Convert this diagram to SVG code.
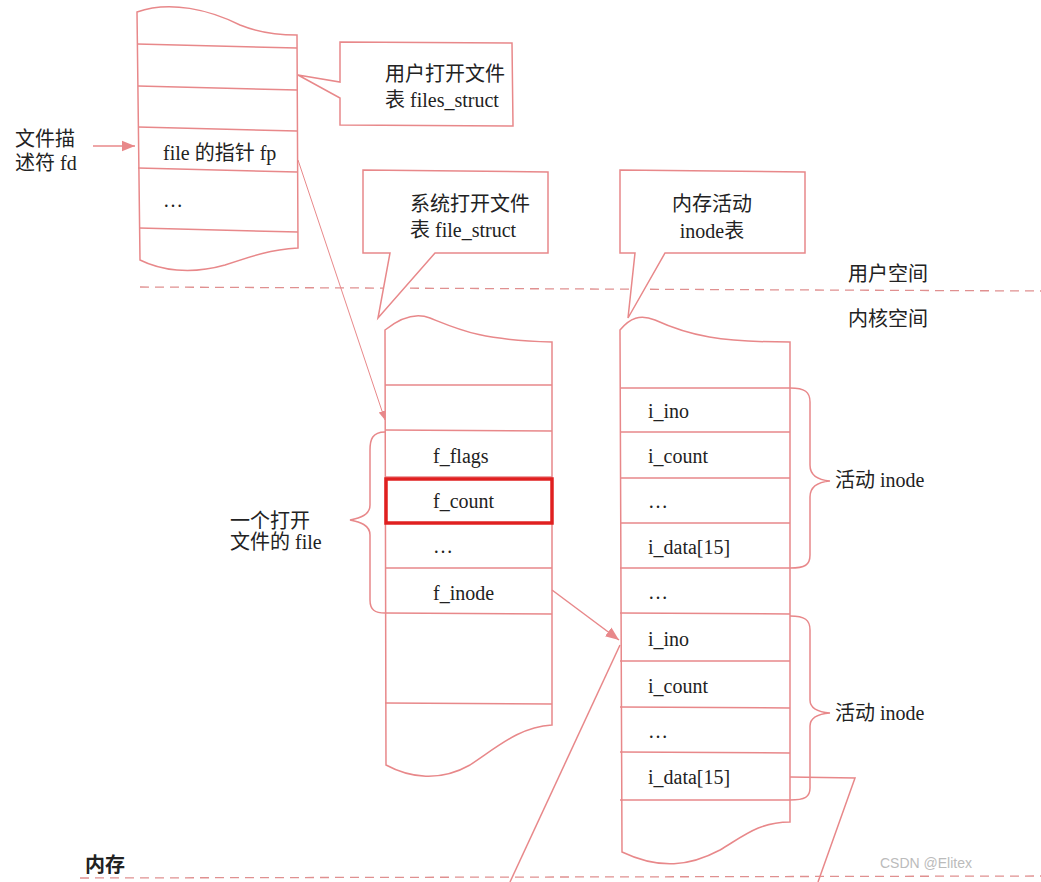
<svg xmlns="http://www.w3.org/2000/svg" width="1041" height="882" viewBox="0 0 1041 882">
<defs>
<style>
.s{fill:none;stroke:#e8888a;stroke-width:1.5}
.f{fill:#fff;stroke:#e8888a;stroke-width:1.5}
.d{fill:none;stroke:#e09090;stroke-width:1.3;stroke-dasharray:9 6}
text{font-family:"Liberation Serif","Noto Sans CJK SC",serif;font-size:20px;fill:#222}
</style>
<marker id="a" viewBox="0 0 10 10" refX="10" refY="5" markerWidth="9" markerHeight="9" orient="auto"><path d="M0,1 L10,5 L0,9 Z" fill="#e8888a"/></marker>
</defs>
<rect width="1041" height="882" fill="#fff"/>
<line class="d" x1="140" y1="287" x2="1041" y2="291"/>
<line class="d" x1="80" y1="878" x2="1041" y2="876"/>
<text x="848" y="281">用户空间</text>
<text x="848" y="326">内核空间</text>
<text x="85" y="872" style="font-weight:bold">内存</text>
<text x="880" y="868" style="font-family:'Liberation Sans',sans-serif;font-size:14px;fill:#bbb">CSDN @Elitex</text>
<g id="user-table">
<path class="f" d="M137,12 C170,0 210,10 240,25 C260,33 280,35 297,35 L298,248 C270,250 255,255 225,265 C190,275 160,270 140,260 Z"/>
<path class="s" d="M137,44 L297,48 M138,86 L297,90 M138,127 L297,131 M138,168 L297,172 M139,228 L298,232"/>
<text x="163" y="160">file 的指针 fp</text>
<text x="163" y="207">…</text>
</g>
<g id="fd-label">
<text x="15" y="146">文件描</text>
<text x="15" y="170">述符 fd</text>
</g>
<g id="callout-files">
<path class="f" d="M340,42 L512,43 L513,126 L340,125 L340,98 L298,75 L340,82 Z"/>
<text x="385" y="81">用户打开文件</text>
<text x="385" y="107">表 files_struct</text>
</g>
<g id="callout-file">
<path class="f" d="M363,170 L548,172 L548,253 L435,253 L378,318 L390,253 L363,253 Z"/>
<text x="410" y="211">系统打开文件</text>
<text x="410" y="237">表 file_struct</text>
</g>
<g id="callout-inode">
<path class="f" d="M620,170 L805,172 L805,253 L665,253 L628,318 L635,253 L620,253 Z"/>
<text x="712" y="211" text-anchor="middle">内存活动</text>
<text x="712" y="238" text-anchor="middle">inode表</text>
</g>
<g id="file-table">
<path class="f" d="M385,330 C400,318 415,312 430,318 C460,330 480,340 552,342 L552,725 C520,727 500,745 470,765 C440,782 410,778 386,765 Z"/>
<path class="s" d="M385,385 L552,385 M385,430 L552,431 M385,477 L552,477 M385,523 L552,523 M385,568 L552,568 M385,613 L552,614 M385,703 L552,704"/>
<rect x="386" y="479" width="166" height="44" fill="none" stroke="#e02020" stroke-width="3.5"/>
<text x="433" y="463">f_flags</text>
<text x="433" y="508">f_count</text>
<text x="433" y="553">…</text>
<text x="433" y="600">f_inode</text>
</g>
<g id="file-label">
<text x="230" y="528">一个打开</text>
<text x="230" y="549">文件的 file</text>
</g>
<g id="inode-table">
<path class="f" d="M620,330 C630,318 640,314 655,320 C690,336 720,342 790,342 L790,822 C760,822 745,835 720,850 C690,866 660,870 622,852 Z"/>
<path class="s" d="M620,388 L790,388 M620,432 L790,432 M620,478 L790,478 M620,523 L790,523 M620,568 L790,568 M620,613 L790,614 M620,661 L790,661 M620,707 L790,708 M620,752 L790,753 M620,800 L790,800"/>
<text x="648" y="418">i_ino</text>
<text x="648" y="463">i_count</text>
<text x="648" y="508">…</text>
<text x="648" y="554">i_data[15]</text>
<text x="648" y="599">…</text>
<text x="648" y="646">i_ino</text>
<text x="648" y="693">i_count</text>
<text x="648" y="738">…</text>
<text x="648" y="784">i_data[15]</text>
</g>
<g id="inode-labels">
<text x="835" y="487">活动 inode</text>
<text x="835" y="720">活动 inode</text>
</g>
<g id="connectors">
<line class="s" x1="93" y1="146" x2="135" y2="146" marker-end="url(#a)"/>
<line x1="298" y1="160" x2="385" y2="420" stroke="#e8888a" stroke-width="1" marker-end="url(#a)"/>
<line class="s" x1="552" y1="590" x2="619" y2="640" marker-end="url(#a)"/>
<path class="s" d="M620,645 L510,882"/>
<path class="s" d="M790,777 L855,778 L818,882"/>
<path class="s" d="M385,432 C372,432 370,440 370,450 L370,505 C370,515 360,518 350,520 C360,522 370,525 370,535 L370,600 C370,610 375,613 385,613"/>
<path class="s" d="M790,388 C805,388 810,392 810,402 L810,465 C810,475 818,480 830,481 C818,482 810,487 810,497 L810,555 C810,565 805,568 790,568"/>
<path class="s" d="M790,616 C805,616 810,620 810,630 L810,700 C810,708 818,712 830,713 C818,714 810,718 810,726 L810,788 C810,797 805,800 790,800"/>
</g>
</svg>
